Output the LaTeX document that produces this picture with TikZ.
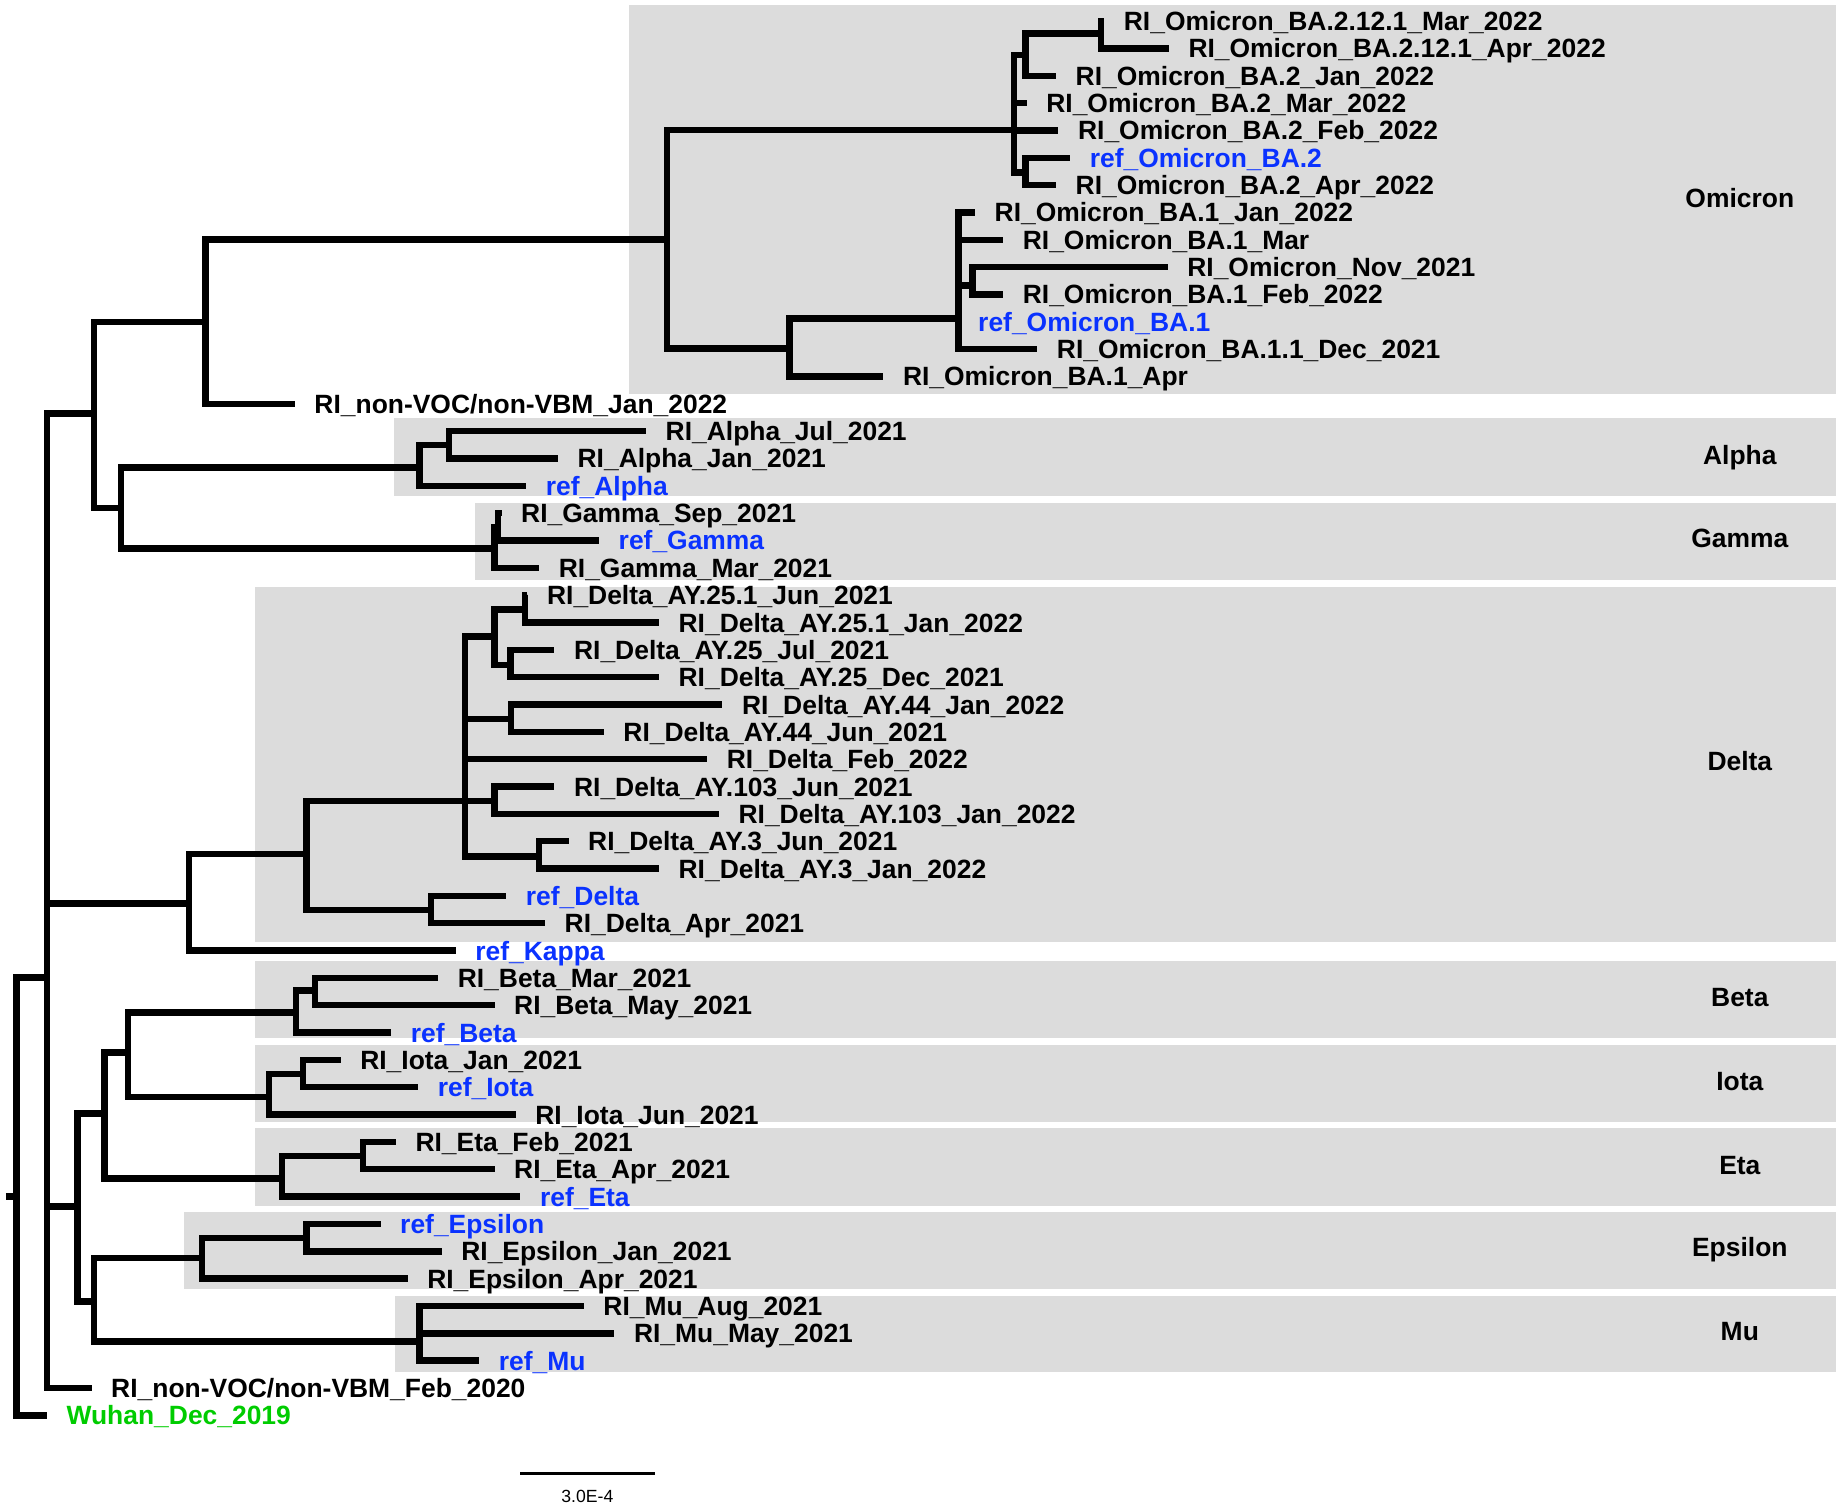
\documentclass[tikz,border=0pt]{standalone}
\usepackage{fontspec}
\setmainfont{Liberation Sans}
\usetikzlibrary{positioning}
\definecolor{refblue}{RGB}{10,50,255}
\definecolor{rootgreen}{RGB}{0,204,0}
\definecolor{cladegray}{RGB}{220,220,220}

\begin{document}
\begin{tikzpicture}[x=1pt, y=-1pt, node distance={16.5pt},
        branch/.style = {line width=5.5pt},
        tip/.style = {inner sep=0pt, text height=16pt, text depth=0pt, font=\fontsize{22.5}{24}\bfseries\selectfont},
        reftip/.style = {tip, text=refblue},
        clade/.style = {fill=cladegray},
        cladename/.style = {tip}]
        \useasboundingbox (0,0) rectangle (1568,1283);

        % clade boxes
        \fill[clade] (535.5,4.3) rectangle (1563,335);
        \fill[clade] (335,356) rectangle (1563,422);
        \fill[clade] (404,428) rectangle (1563,493.5);
        \fill[clade] (217.4,499.4) rectangle (1563,801.6);
        \fill[clade] (217.4,818) rectangle (1563,883.3);
        \fill[clade] (217.4,889.5) rectangle (1563,954.7);
        \fill[clade] (217.4,960.3) rectangle (1563,1026.4);
        \fill[clade] (157,1031.7) rectangle (1563,1097.2);
        \fill[clade] (336,1102.8) rectangle (1563,1168);

        % inner nodes
        \coordinate (stub) at (5,1018.5);
        \coordinate (root) at (14,1018.5);
        \coordinate (n1) at (40,832);
        \coordinate (n2) at (80,352);
        \coordinate (n3) at (175,274);
        \coordinate (omi) at (568,204);
        \coordinate (ba2) at (863,110.7);
        \coordinate (ba2a) at (873,47);
        \coordinate (ba2121) at (937,28.4);
        \coordinate (ba2b) at (873,147);
        \coordinate (ba1p) at (672,296.6);
        \coordinate (ba1) at (816,271);
        \coordinate (ba1s) at (828,243);
        \coordinate (nag) at (103,432.6);
        \coordinate (alpha) at (357,398);
        \coordinate (alphas) at (382,379);
        \coordinate (gamma) at (421,467);
        \coordinate (gammas) at (424,449);
        \coordinate (ndk) at (161,769);
        \coordinate (delta) at (261,727);
        \coordinate (deltas) at (367,774.6);
        \coordinate (dmain) at (396,682);
        \coordinate (d25) at (421,541.7);
        \coordinate (d251) at (447,519);
        \coordinate (d25s) at (434.5,566);
        \coordinate (d44) at (435,612);
        \coordinate (d103) at (421,682);
        \coordinate (d3) at (459,729);
        \coordinate (nbiem) at (66,1027);
        \coordinate (nbie) at (89,948);
        \coordinate (nbi) at (109,896);
        \coordinate (beta) at (252,862);
        \coordinate (betas) at (268,843);
        \coordinate (iota) at (229,934);
        \coordinate (iotas) at (258,914);
        \coordinate (eta) at (240,1003);
        \coordinate (etas) at (309,984);
        \coordinate (nem) at (80,1108);
        \coordinate (eps) at (172,1071);
        \coordinate (epss) at (261,1054);
        \coordinate (mu) at (357,1142);

        % leaf ends
        \coordinate (l0) at (940,18);
        \coordinate (l1) at (995,41.3);
        \coordinate (l2) at (899,64.5);
        \coordinate (l3) at (874,87.8);
        \coordinate (l4) at (901,111.1);
        \coordinate (l5) at (911,134.4);
        \coordinate (l6) at (899,157.6);
        \coordinate (l7) at (830,180.9);
        \coordinate (l8) at (854,204.2);
        \coordinate (l9) at (994,227.4);
        \coordinate (l10) at (854,250.7);
        \coordinate (l11) at (816,274);
        \coordinate (l12) at (883,297.2);
        \coordinate (l13) at (752,320.5);
        \coordinate (l14) at (251,343.8);
        \coordinate (l15) at (550,367.1);
        \coordinate (l16) at (475,390.3);
        \coordinate (l17) at (448,413.6);
        \coordinate (l18) at (427,436.9);
        \coordinate (l19) at (510,460.1);
        \coordinate (l20) at (459,483.4);
        \coordinate (l21) at (449,506.7);
        \coordinate (l22) at (561,530);
        \coordinate (l23) at (472,553.2);
        \coordinate (l24) at (561,576.5);
        \coordinate (l25) at (615,599.8);
        \coordinate (l26) at (514,623);
        \coordinate (l27) at (602,646.3);
        \coordinate (l28) at (472,669.6);
        \coordinate (l29) at (612,692.8);
        \coordinate (l30) at (484,716.1);
        \coordinate (l31) at (561,739.4);
        \coordinate (l32) at (431,762.6);
        \coordinate (l33) at (464,785.9);
        \coordinate (l34) at (388,809.2);
        \coordinate (l35) at (373,832.5);
        \coordinate (l36) at (421,855.7);
        \coordinate (l37) at (333,879);
        \coordinate (l38) at (290,902.3);
        \coordinate (l39) at (356,925.5);
        \coordinate (l40) at (439,948.8);
        \coordinate (l41) at (337,972.1);
        \coordinate (l42) at (421,995.3);
        \coordinate (l43) at (443,1018.6);
        \coordinate (l44) at (324,1041.9);
        \coordinate (l45) at (376,1065.2);
        \coordinate (l46) at (347,1088.4);
        \coordinate (l47) at (497,1111.7);
        \coordinate (l48) at (523,1135);
        \coordinate (l49) at (408,1158.2);
        \coordinate (l50) at (78,1181.5);
        \coordinate (l51) at (40,1204.8);

        % branches
        \draw[branch] (stub) -- (root);
        \draw[branch] (root) |- (n1) (root) |- (l51);
        \draw[branch] (n1) |- (n2) (n1) |- (ndk) (n1) |- (nbiem) (n1) |- (l50);
        \draw[branch] (n2) |- (n3) (n2) |- (nag);
        \draw[branch] (n3) |- (omi) (n3) |- (l14);
        \draw[branch] (omi) |- (ba2) (omi) |- (ba1p);
        \draw[branch] (ba2) |- (ba2a) (ba2) |- (l3) (ba2) |- (l4) (ba2) |- (ba2b);
        \draw[branch] (ba2a) |- (ba2121) (ba2a) |- (l2);
        \draw[branch] (ba2121) |- (l0) (ba2121) |- (l1);
        \draw[branch] (ba2b) |- (l5) (ba2b) |- (l6);
        \draw[branch] (ba1p) |- (ba1) (ba1p) |- (l13);
        \draw[branch] (ba1) |- (l7) (ba1) |- (l8) (ba1) |- (ba1s) (ba1) |- (l11) (ba1) |- (l12);
        \draw[branch] (ba1s) |- (l9) (ba1s) |- (l10);
        \draw[branch] (nag) |- (alpha) (nag) |- (gamma);
        \draw[branch] (alpha) |- (alphas) (alpha) |- (l17);
        \draw[branch] (alphas) |- (l15) (alphas) |- (l16);
        \draw[branch] (gamma) |- (gammas) (gamma) |- (l20);
        \draw[branch] (gammas) |- (l18) (gammas) |- (l19);
        \draw[branch] (ndk) |- (delta) (ndk) |- (l34);
        \draw[branch] (delta) |- (dmain) (delta) |- (deltas);
        \draw[branch] (deltas) |- (l32) (deltas) |- (l33);
        \draw[branch] (dmain) |- (d25) (dmain) |- (d44) (dmain) |- (l27) (dmain) |- (d103) (dmain) |- (d3);
        \draw[branch] (d25) |- (d251) (d25) |- (d25s);
        \draw[branch] (d251) |- (l21) (d251) |- (l22);
        \draw[branch] (d25s) |- (l23) (d25s) |- (l24);
        \draw[branch] (d44) |- (l25) (d44) |- (l26);
        \draw[branch] (d103) |- (l28) (d103) |- (l29);
        \draw[branch] (d3) |- (l30) (d3) |- (l31);
        \draw[branch] (nbiem) |- (nbie) (nbiem) |- (nem);
        \draw[branch] (nbie) |- (nbi) (nbie) |- (eta);
        \draw[branch] (nbi) |- (beta) (nbi) |- (iota);
        \draw[branch] (beta) |- (betas) (beta) |- (l37);
        \draw[branch] (betas) |- (l35) (betas) |- (l36);
        \draw[branch] (iota) |- (iotas) (iota) |- (l40);
        \draw[branch] (iotas) |- (l38) (iotas) |- (l39);
        \draw[branch] (eta) |- (etas) (eta) |- (l43);
        \draw[branch] (etas) |- (l41) (etas) |- (l42);
        \draw[branch] (nem) |- (eps) (nem) |- (mu);
        \draw[branch] (eps) |- (epss) (eps) |- (l46);
        \draw[branch] (epss) |- (l44) (epss) |- (l45);
        \draw[branch] (mu) |- (l47) (mu) |- (l48) (mu) |- (l49);

        % tip labels
        \node[tip, right=of l0] (t0) {RI\_Omicron\_BA.2.12.1\_Mar\_2022};
        \node[tip, right=of l1] (t1) {RI\_Omicron\_BA.2.12.1\_Apr\_2022};
        \node[tip, right=of l2] (t2) {RI\_Omicron\_BA.2\_Jan\_2022};
        \node[tip, right=of l3] (t3) {RI\_Omicron\_BA.2\_Mar\_2022};
        \node[tip, right=of l4] (t4) {RI\_Omicron\_BA.2\_Feb\_2022};
        \node[reftip, right=of l5] (t5) {ref\_Omicron\_BA.2};
        \node[tip, right=of l6] (t6) {RI\_Omicron\_BA.2\_Apr\_2022};
        \node[tip, right=of l7] (t7) {RI\_Omicron\_BA.1\_Jan\_2022};
        \node[tip, right=of l8] (t8) {RI\_Omicron\_BA.1\_Mar};
        \node[tip, right=of l9] (t9) {RI\_Omicron\_Nov\_2021};
        \node[tip, right=of l10] (t10) {RI\_Omicron\_BA.1\_Feb\_2022};
        \node[reftip, right=of l11] (t11) {ref\_Omicron\_BA.1};
        \node[tip, right=of l12] (t12) {RI\_Omicron\_BA.1.1\_Dec\_2021};
        \node[tip, right=of l13] (t13) {RI\_Omicron\_BA.1\_Apr};
        \node[tip, right=of l14] (t14) {RI\_non-VOC/non-VBM\_Jan\_2022};
        \node[tip, right=of l15] (t15) {RI\_Alpha\_Jul\_2021};
        \node[tip, right=of l16] (t16) {RI\_Alpha\_Jan\_2021};
        \node[reftip, right=of l17] (t17) {ref\_Alpha};
        \node[tip, right=of l18] (t18) {RI\_Gamma\_Sep\_2021};
        \node[reftip, right=of l19] (t19) {ref\_Gamma};
        \node[tip, right=of l20] (t20) {RI\_Gamma\_Mar\_2021};
        \node[tip, right=of l21] (t21) {RI\_Delta\_AY.25.1\_Jun\_2021};
        \node[tip, right=of l22] (t22) {RI\_Delta\_AY.25.1\_Jan\_2022};
        \node[tip, right=of l23] (t23) {RI\_Delta\_AY.25\_Jul\_2021};
        \node[tip, right=of l24] (t24) {RI\_Delta\_AY.25\_Dec\_2021};
        \node[tip, right=of l25] (t25) {RI\_Delta\_AY.44\_Jan\_2022};
        \node[tip, right=of l26] (t26) {RI\_Delta\_AY.44\_Jun\_2021};
        \node[tip, right=of l27] (t27) {RI\_Delta\_Feb\_2022};
        \node[tip, right=of l28] (t28) {RI\_Delta\_AY.103\_Jun\_2021};
        \node[tip, right=of l29] (t29) {RI\_Delta\_AY.103\_Jan\_2022};
        \node[tip, right=of l30] (t30) {RI\_Delta\_AY.3\_Jun\_2021};
        \node[tip, right=of l31] (t31) {RI\_Delta\_AY.3\_Jan\_2022};
        \node[reftip, right=of l32] (t32) {ref\_Delta};
        \node[tip, right=of l33] (t33) {RI\_Delta\_Apr\_2021};
        \node[reftip, right=of l34] (t34) {ref\_Kappa};
        \node[tip, right=of l35] (t35) {RI\_Beta\_Mar\_2021};
        \node[tip, right=of l36] (t36) {RI\_Beta\_May\_2021};
        \node[reftip, right=of l37] (t37) {ref\_Beta};
        \node[tip, right=of l38] (t38) {RI\_Iota\_Jan\_2021};
        \node[reftip, right=of l39] (t39) {ref\_Iota};
        \node[tip, right=of l40] (t40) {RI\_Iota\_Jun\_2021};
        \node[tip, right=of l41] (t41) {RI\_Eta\_Feb\_2021};
        \node[tip, right=of l42] (t42) {RI\_Eta\_Apr\_2021};
        \node[reftip, right=of l43] (t43) {ref\_Eta};
        \node[reftip, right=of l44] (t44) {ref\_Epsilon};
        \node[tip, right=of l45] (t45) {RI\_Epsilon\_Jan\_2021};
        \node[tip, right=of l46] (t46) {RI\_Epsilon\_Apr\_2021};
        \node[tip, right=of l47] (t47) {RI\_Mu\_Aug\_2021};
        \node[tip, right=of l48] (t48) {RI\_Mu\_May\_2021};
        \node[reftip, right=of l49] (t49) {ref\_Mu};
        \node[tip, right=of l50] (t50) {RI\_non-VOC/non-VBM\_Feb\_2020};
        \node[tip, text=rootgreen, right=of l51] (t51) {Wuhan\_Dec\_2019};

        % clade names
        \node[cladename] (omicron) at (1481,169) {Omicron};
        \node[cladename] (alphaname) at (1481,387) {Alpha};
        \node[cladename] (gammaname) at (1481,458) {Gamma};
        \node[cladename] (deltaname) at (1481,648) {Delta};
        \node[cladename] (betaname) at (1481,849) {Beta};
        \node[cladename] (iotaname) at (1481,920) {Iota};
        \node[cladename] (etaname) at (1481,992) {Eta};
        \node[cladename] (epsname) at (1481,1062) {Epsilon};
        \node[cladename] (muname) at (1481,1133) {Mu};

        % scale bar
        \coordinate (sb1) at (443,1254.2);
        \coordinate (sb2) at (557.6,1254.2);
        \draw[line width=2.5pt] (sb1) -- (sb2);
        \node[font=\fontsize{15}{17}\selectfont, inner sep=0pt] (scale) at (500,1273.5) {3.0E-4};
\end{tikzpicture}
\end{document}
